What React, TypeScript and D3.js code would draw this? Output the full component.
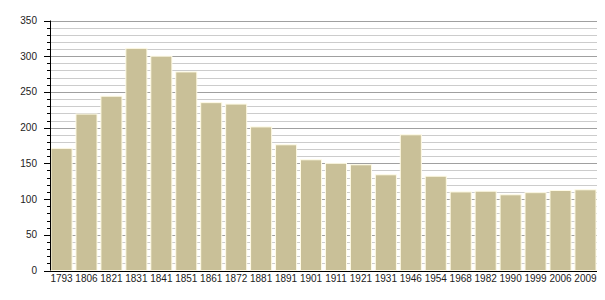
import React from "react";
import * as d3 from "d3";

const years = ["1793","1806","1821","1831","1841","1851","1861","1872","1881","1891","1901","1911","1921","1931","1946","1954","1968","1982","1990","1999","2006","2009"];
const population = [171,219,244,311,300,278,235,233,201,176,155,150,148,134,190,132,110,111,106,109,112,113];
const yTicks = [0,50,100,150,200,250,300,350];

const W = 605, H = 300;
const left = 50, right = 597, top = 20.5, bottom = 270.5;

export default function App() {
  const x = d3.scaleBand<string>().domain(years).range([left, right]).paddingInner(0.155).paddingOuter(0.04);
  const y = d3.scaleLinear().domain([0, 350]).range([bottom, top]);
  const minor = d3.range(0, 351, 10);
  return (
    <svg width={W} height={H} style={{ position: "absolute", left: 0, top: 0 }} fontFamily="Liberation Sans, Arial, sans-serif">
      <rect width={W} height={H} fill="#fff" />
      {minor.map((v) => (
        <line key={"g" + v} x1={left} x2={right} y1={Math.round(y(v)) + 0.5} y2={Math.round(y(v)) + 0.5}
          stroke={v % 50 === 0 ? "#a0a0a0" : "#cccccc"} strokeWidth={1} />
      ))}
      {minor.map((v) => (
        <line key={"t" + v} x1={v % 50 === 0 ? left - 6 : left - 3} x2={left} y1={Math.round(y(v)) + 0.5} y2={Math.round(y(v)) + 0.5}
          stroke="#000" strokeWidth={1} />
      ))}
      {years.map((yr, i) => (
        <rect key={yr} x={x(yr)} y={y(population[i])} width={x.bandwidth()} height={bottom - y(population[i])}
          fill="#c9c098" stroke="#fffbe6" strokeWidth={1} />
      ))}
      <line x1={left + 0.5} x2={left + 0.5} y1={top} y2={bottom} stroke="#000" />
      <line x1={left - 6} x2={right} y1={Math.round(bottom) + 0.5} y2={Math.round(bottom) + 0.5} stroke="#000" />
      {yTicks.map((v) => (
        <text key={"l" + v} x={37} y={y(v)} dy="0.35em" textAnchor="end" fontSize={10} fill="#222">{v}</text>
      ))}
      {years.map((yr) => (
        <text key={"x" + yr} x={(x(yr) as number) + x.bandwidth() / 2} y={278.5} dy="0.35em" textAnchor="middle" fontSize={10} fill="#222">{yr}</text>
      ))}
    </svg>
  );
}
